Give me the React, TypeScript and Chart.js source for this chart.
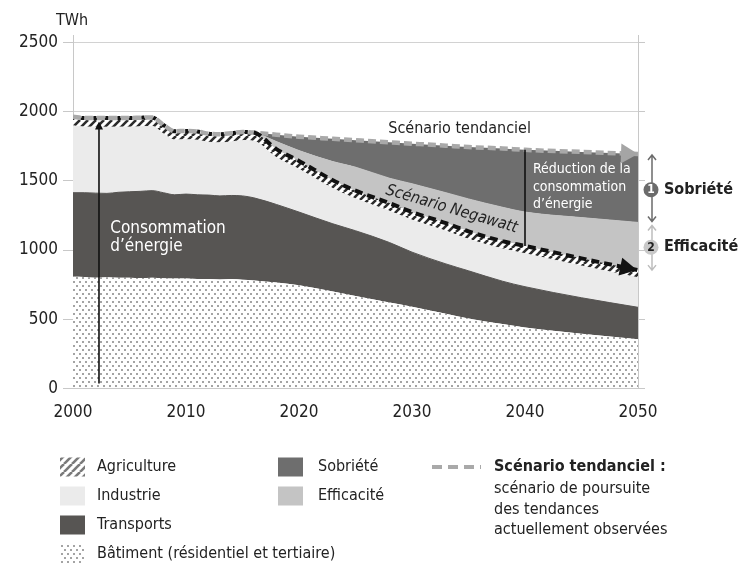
import React, { useEffect, useRef } from 'react';
import { Chart, registerables } from 'chart.js';
Chart.register(...registerables);

const FONT = "'DejaVu Sans Condensed', 'DejaVu Sans', sans-serif";

// ---- data (TWh) ----
const years = [2000, 2001, 2002, 2003, 2004, 2005, 2006, 2007, 2008, 2009, 2010, 2011, 2012, 2013, 2014, 2015, 2016,
  2018, 2020, 2023, 2025, 2028, 2030, 2033, 2035, 2038, 2040, 2045, 2050];
const batiment = [807, 805, 800, 803, 800, 800, 798, 800, 797, 795, 795, 790, 790, 788, 790, 785, 780,
  765, 745, 700, 668, 620, 590, 540, 505, 465, 440, 395, 355];
const transports = [608, 610, 612, 607, 618, 622, 627, 630, 618, 605, 610, 610, 608, 604, 605, 607, 598,
  565, 530, 490, 472, 435, 395, 360, 345, 310, 295, 260, 231];
const industrie = [484, 475, 478, 479, 472, 468, 467, 465, 426, 397, 393, 395, 382, 384, 387, 401, 410,
  339, 310, 255, 231, 227, 232, 238, 228, 234, 239, 230, 214];
const agriculture = [66, 65, 65, 66, 65, 65, 66, 65, 64, 63, 64, 63, 62, 62, 63, 62, 62,
  61, 60, 60, 59, 58, 58, 57, 57, 56, 56, 55, 55];
const efficacite = [0, 0, 0, 0, 0, 0, 0, 0, 0, 0, 0, 0, 0, 0, 0, 0, 0,
  55, 75, 135, 170, 180, 205, 220, 235, 245, 245, 295, 345];
const sobriete = [0, 0, 0, 0, 0, 0, 0, 0, 0, 0, 0, 0, 0, 0, 0, 0, 0,
  50, 100, 165, 195, 260, 290, 340, 375, 425, 450, 475, 495];
const yTicks = [0, 500, 1000, 1500, 2000, 2500];
const xTicks = [2000, 2010, 2020, 2030, 2040, 2050];
const lastHistoricYear = 2016;

const negawatt = years.map((_, i) => batiment[i] + transports[i] + industrie[i] + agriculture[i]);
const tendanciel = years.map((_, i) => negawatt[i] + efficacite[i] + sobriete[i]);

const C = {
  transports: '#575553',
  industrie: '#ebebeb',
  sobriete: '#6e6e6e',
  efficacite: '#c4c4c4',
  tend: '#a9a9a9',
  axis: '#c8c8c8',
  text: '#222222',
};

function makeHatch(color: string) {
  const s = 8;
  const c = document.createElement('canvas');
  c.width = s; c.height = s;
  const g = c.getContext('2d')!;
  g.fillStyle = '#ffffff';
  g.fillRect(0, 0, s, s);
  g.strokeStyle = color;
  g.lineWidth = 2.6;
  for (const k of [-s, 0, s]) {
    g.beginPath();
    g.moveTo(k, s);
    g.lineTo(k + s, 0);
    g.stroke();
  }
  return g.createPattern(c, 'repeat')!;
}

function makeDots() {
  const c = document.createElement('canvas');
  c.width = 6; c.height = 8;
  const g = c.getContext('2d')!;
  g.fillStyle = '#ffffff';
  g.fillRect(0, 0, 6, 8);
  g.fillStyle = '#a4a4a4';
  g.fillRect(1, 1, 2, 2);
  g.fillRect(4, 5, 2, 2);
  return g.createPattern(c, 'repeat')!;
}

function pts(arr: number[]) {
  return years.map((yr, i) => ({ x: yr, y: arr[i] }));
}

function makePlugin(hatch: CanvasPattern, hatchLegend: CanvasPattern, dots: CanvasPattern) {
  return {
    id: 'annotations',
    afterDraw(chart: any) {
      const { ctx, scales, chartArea } = chart;
      const px = (v: number) => scales.x.getPixelForValue(v);
      const py = (v: number) => scales.y.getPixelForValue(v);
      const n = years.length - 1;
      ctx.save();

      // unit
      ctx.fillStyle = C.text;
      ctx.font = `16px ${FONT}`;
      ctx.textAlign = 'left';
      ctx.textBaseline = 'alphabetic';
      ctx.fillText('TWh', 56, 25);

      // consumption arrow
      const ax = px(2002.3);
      ctx.strokeStyle = '#111';
      ctx.fillStyle = '#111';
      ctx.lineWidth = 1.6;
      ctx.beginPath();
      ctx.moveTo(ax, py(35));
      ctx.lineTo(ax, py(1930) + 6);
      ctx.stroke();
      ctx.beginPath();
      ctx.moveTo(ax, py(1930));
      ctx.lineTo(ax - 4, py(1930) + 8);
      ctx.lineTo(ax + 4, py(1930) + 8);
      ctx.closePath();
      ctx.fill();

      ctx.fillStyle = '#ffffff';
      ctx.font = `17px ${FONT}`;
      ctx.fillText('Consommation', px(2003.3), py(1120));
      ctx.fillText('d’énergie', px(2003.3), py(993));

      // scenario labels
      ctx.fillStyle = C.text;
      ctx.font = `16px ${FONT}`;
      ctx.fillText('Scénario tendanciel', px(2027.9), py(1847));

      ctx.save();
      ctx.translate(px(2027.6), py(1406));
      ctx.rotate(16.4 * Math.PI / 180);
      ctx.font = `italic 16px ${FONT}`;
      ctx.fillText('Scénario Negawatt', 0, 0);
      ctx.restore();

      // reduction line at 2040
      const i40 = years.indexOf(2040);
      ctx.strokeStyle = '#111';
      ctx.lineWidth = 1.6;
      ctx.beginPath();
      ctx.moveTo(px(2040), py(tendanciel[i40]));
      ctx.lineTo(px(2040), py(negawatt[i40]));
      ctx.stroke();
      ctx.fillStyle = '#ffffff';
      ctx.font = `14px ${FONT}`;
      ctx.fillText('Réduction de la', px(2040.7), py(1558));
      ctx.fillText('consommation', px(2040.7), py(1428));
      ctx.fillText('d’énergie', px(2040.7), py(1301));

      // end arrows
      const tri = (x0: number, y0: number, x1: number, y1: number, len: number, hw: number, col: string) => {
        const a = Math.atan2(y1 - y0, x1 - x0);
        const bx = x1 - len * Math.cos(a), by = y1 - len * Math.sin(a);
        ctx.fillStyle = col;
        ctx.beginPath();
        ctx.moveTo(x1, y1);
        ctx.lineTo(bx - hw * Math.sin(a), by + hw * Math.cos(a));
        ctx.lineTo(bx + hw * Math.sin(a), by - hw * Math.cos(a));
        ctx.closePath();
        ctx.fill();
      };
      tri(px(years[n - 1]), py(tendanciel[n - 1]), px(years[n]), py(tendanciel[n]), 17, 10, '#a5a5a5');
      tri(px(years[n - 1]), py(negawatt[n - 1]), px(years[n]) - 1, py(negawatt[n]), 17, 9, '#111');

      // right side brackets
      const rx = chartArea.right + 14;
      const yTop = py(tendanciel[n]) + 1;
      const yMid = py(negawatt[n] + efficacite[n]);
      const yBot = py(negawatt[n]);
      const bracket = (y0: number, y1: number, col: string) => {
        ctx.strokeStyle = col;
        ctx.lineWidth = 1.5;
        ctx.beginPath();
        ctx.moveTo(rx, y0); ctx.lineTo(rx, y1);
        ctx.moveTo(rx - 4, y0 + 5); ctx.lineTo(rx, y0); ctx.lineTo(rx + 4, y0 + 5);
        ctx.moveTo(rx - 4, y1 - 5); ctx.lineTo(rx, y1); ctx.lineTo(rx + 4, y1 - 5);
        ctx.stroke();
      };
      bracket(yTop, yMid - 1, '#6b6b6b');
      bracket(yMid + 3, yBot, '#bdbdbd');

      const badge = (cy: number, fill: string, txtCol: string, label: string, name: string) => {
        ctx.fillStyle = fill;
        ctx.beginPath();
        ctx.arc(rx - 1, cy, 7.5, 0, Math.PI * 2);
        ctx.fill();
        ctx.fillStyle = txtCol;
        ctx.font = `bold 12px ${FONT}`;
        ctx.textAlign = 'center';
        ctx.textBaseline = 'middle';
        ctx.fillText(label, rx - 1, cy + 0.5);
        ctx.fillStyle = C.text;
        ctx.font = `bold 16px ${FONT}`;
        ctx.textAlign = 'left';
        ctx.fillText(name, rx + 12, cy);
      };
      badge((yTop + yMid) / 2 + 1, '#6b6b6b', '#ffffff', '1', 'Sobriété');
      badge((yMid + yBot) / 2 + 1, '#c8c8c8', '#222222', '2', 'Efficacité');

      // legend
      ctx.textAlign = 'left';
      ctx.textBaseline = 'middle';
      const rows = [467, 496, 525, 554];
      const sw = (x: number, y: number, fill: any) => {
        ctx.fillStyle = fill;
        ctx.fillRect(x, y - 9.5, 25, 19);
      };
      sw(60, rows[0], hatchLegend);
      sw(60, rows[1], C.industrie);
      sw(60, rows[2], C.transports);
      sw(60, rows[3], dots);
      sw(278, rows[0], C.sobriete);
      sw(278, rows[1], C.efficacite);
      ctx.fillStyle = C.text;
      ctx.font = `16px ${FONT}`;
      ctx.fillText('Agriculture', 97, rows[0]);
      ctx.fillText('Industrie', 97, rows[1]);
      ctx.fillText('Transports', 97, rows[2]);
      ctx.fillText('Bâtiment (résidentiel et tertiaire)', 97, rows[3]);
      ctx.fillText('Sobriété', 318, rows[0]);
      ctx.fillText('Efficacité', 318, rows[1]);

      ctx.strokeStyle = C.tend;
      ctx.lineWidth = 4;
      ctx.setLineDash([10, 6]);
      ctx.beginPath();
      ctx.moveTo(432, rows[0]);
      ctx.lineTo(481, rows[0]);
      ctx.stroke();
      ctx.setLineDash([]);
      ctx.fillStyle = C.text;
      ctx.font = `bold 16px ${FONT}`;
      ctx.fillText('Scénario tendanciel :', 494, rows[0]);
      ctx.font = `16px ${FONT}`;
      ctx.fillText('scénario de poursuite', 494, 489);
      ctx.fillText('des tendances', 494, 509.5);
      ctx.fillText('actuellement observées', 494, 530);

      ctx.restore();
    },
  };
}

export default function App() {
  const ref = useRef<HTMLCanvasElement>(null);
  useEffect(() => {
    const canvas = ref.current!;
    const hatch = makeHatch('#2b2b2b');
    const hatchLegend = makeHatch('#7a7a7a');
    const dots = makeDots();
    const area = (label: string, arr: number[], bg: any, fill: any, border: string | null) => ({
      label,
      data: pts(arr),
      backgroundColor: bg,
      borderColor: border || 'rgba(0,0,0,0)',
      borderWidth: border ? 1 : 0,
      fill,
      pointRadius: 0,
      cubicInterpolationMode: 'monotone' as const,
    });
    const chart = new Chart(canvas, {
      type: 'line',
      data: {
        datasets: [
          {
            label: 'Scénario Negawatt',
            data: pts(negawatt),
            stack: 'nega',
            borderColor: '#111111',
            borderWidth: 4,
            fill: false,
            pointRadius: 0,
            cubicInterpolationMode: 'monotone',
            segment: {
              borderDash: (c: any) => (years[c.p1DataIndex] <= lastHistoricYear ? [3, 9] : [8, 5]),
              borderDashOffset: (c: any) => (years[c.p1DataIndex] <= lastHistoricYear ? 3.5 : 0),
            },
          } as any,
          {
            label: 'Scénario tendanciel',
            data: pts(tendanciel),
            stack: 'tend',
            borderColor: C.tend,
            borderWidth: 4.5,
            borderDash: [8, 4],
            fill: false,
            pointRadius: 0,
            cubicInterpolationMode: 'monotone',
          } as any,
          area('Bâtiment (résidentiel et tertiaire)', batiment, dots, 'origin', null),
          area('Transports', transports, C.transports, '-1', C.transports),
          area('Industrie', industrie, C.industrie, '-1', C.industrie),
          area('Agriculture', agriculture, hatch, '-1', null),
          area('Efficacité', efficacite, C.efficacite, '-1', C.efficacite),
          area('Sobriété', sobriete, C.sobriete, '-1', null),
        ],
      },
      options: {
        animation: false,
        responsive: false,
        devicePixelRatio: 1,
        layout: { padding: { top: 35, left: 0, right: 0, bottom: 0 } },
        plugins: { legend: { display: false }, tooltip: { enabled: false } },
        events: [],
        scales: {
          x: {
            type: 'linear',
            min: 2000,
            max: 2050,
            grid: { display: false, drawTicks: false },
            border: { display: true, color: C.axis },
            afterBuildTicks: (s: any) => { s.ticks = xTicks.map((v) => ({ value: v })); },
            afterFit: (s: any) => { s.height = 175.7; },
            ticks: {
              color: C.text,
              font: { family: FONT, size: 17 },
              padding: 14,
              maxRotation: 0,
              callback: (v: any) => String(v),
            },
          },
          y: {
            type: 'linear',
            stacked: true,
            min: 0,
            max: 2556,
            afterBuildTicks: (s: any) => { s.ticks = yTicks.map((v) => ({ value: v })); },
            afterFit: (s: any) => { s.width = 73; },
            grid: { color: '#d2d2d2', tickColor: C.axis, tickLength: 10, drawTicks: true },
            border: { display: true, color: C.axis },
            ticks: {
              color: C.text,
              font: { family: FONT, size: 17 },
              padding: 5,
              callback: (v: any) => String(v),
            },
          },
          y2: {
            type: 'linear',
            display: true,
            position: 'right',
            min: 0,
            max: 2556,
            afterBuildTicks: (s: any) => { s.ticks = yTicks.map((v) => ({ value: v })); },
            afterFit: (s: any) => { s.width = 104; },
            grid: { drawOnChartArea: false, tickColor: C.axis, tickLength: 7, drawTicks: true },
            border: { display: true, color: C.axis },
            ticks: { callback: () => '', padding: 0 },
          },
        },
      } as any,
      plugins: [makePlugin(hatch, hatchLegend, dots)],
    });
    return () => chart.destroy();
  }, []);
  return (
    <div style={{ position: 'absolute', left: 0, top: 0, width: 742, height: 564, background: '#ffffff' }}>
      <canvas ref={ref} width={742} height={564} style={{ display: 'block', width: 742, height: 564 }} />
    </div>
  );
}
